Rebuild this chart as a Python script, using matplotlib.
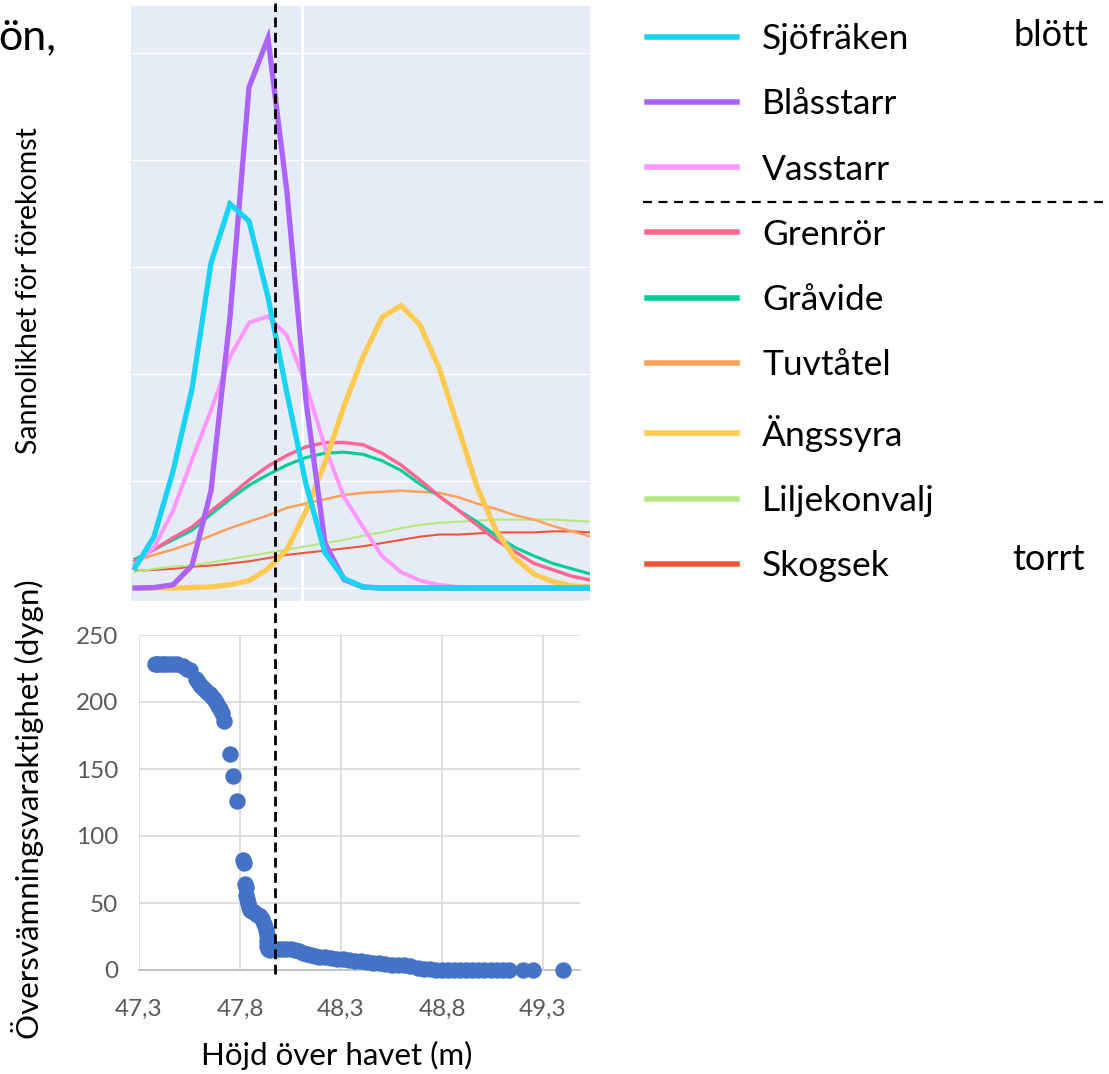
import numpy as np
import matplotlib.pyplot as plt
from matplotlib.lines import Line2D
from matplotlib.transforms import blended_transform_factory

plt.rcParams['font.family'] = ['Lato', 'DejaVu Sans']

# Övre panelen: modellerad sannolikhet för förekomst längs höjdgradienten
hojd_modell = [47.2, 47.3, 47.4, 47.5, 47.6, 47.7, 47.8, 47.9, 48.0, 48.1, 48.2, 48.3, 48.4,
               48.5, 48.6, 48.7, 48.8, 48.9, 49.0, 49.1, 49.2, 49.3, 49.4, 49.5, 49.6]

sjofraken = [0.019, 0.048, 0.109, 0.186, 0.304, 0.359, 0.343, 0.272, 0.182, 0.097, 0.033, 0.009, 0.001,
             0, 0, 0, 0, 0, 0, 0, 0, 0, 0, 0, 0]
blasstarr = [0, 0.0005, 0.003, 0.021, 0.091, 0.253, 0.468, 0.514, 0.370, 0.175, 0.042, 0.008, 0.001,
             0, 0, 0, 0, 0, 0, 0, 0, 0, 0, 0, 0]
vasstarr = [0.022, 0.038, 0.072, 0.120, 0.166, 0.216, 0.248, 0.254, 0.236, 0.190, 0.132, 0.085, 0.057,
            0.030, 0.015, 0.007, 0.003, 0.001, 0, 0, 0, 0, 0, 0, 0]
grenror = [0.025, 0.036, 0.047, 0.057, 0.072, 0.086, 0.101, 0.114, 0.124, 0.132, 0.136, 0.136, 0.134,
           0.126, 0.115, 0.101, 0.086, 0.073, 0.059, 0.045, 0.034, 0.023, 0.017, 0.011, 0.0075]
gravide = [0.027, 0.036, 0.045, 0.054, 0.069, 0.083, 0.096, 0.106, 0.115, 0.122, 0.126, 0.127, 0.125,
           0.119, 0.110, 0.097, 0.086, 0.073, 0.062, 0.049, 0.038, 0.030, 0.023, 0.018, 0.013]
tuvtatel = [0.025, 0.031, 0.036, 0.042, 0.049, 0.056, 0.062, 0.068, 0.075, 0.079, 0.083, 0.087, 0.089,
            0.090, 0.091, 0.090, 0.089, 0.085, 0.079, 0.074, 0.068, 0.064, 0.058, 0.053, 0.048]
angssyra = [0, 0, 0, 0.0005, 0.001, 0.003, 0.007, 0.018, 0.036, 0.072, 0.117, 0.170, 0.216,
            0.253, 0.264, 0.246, 0.206, 0.151, 0.095, 0.054, 0.028, 0.013, 0.006, 0.002, 0.001]
liljekonvalj = [0.015, 0.018, 0.020, 0.021, 0.024, 0.027, 0.030, 0.033, 0.036, 0.039, 0.042, 0.045, 0.049,
                0.052, 0.056, 0.059, 0.061, 0.062, 0.063, 0.064, 0.064, 0.064, 0.064, 0.063, 0.062]
skogsek = [0.016, 0.017, 0.018, 0.020, 0.021, 0.023, 0.025, 0.028, 0.031, 0.033, 0.035, 0.037, 0.039,
           0.042, 0.045, 0.048, 0.050, 0.050, 0.051, 0.052, 0.052, 0.052, 0.053, 0.053, 0.052]

arter = ["Sjöfräken", "Blåsstarr", "Vasstarr", "Grenrör", "Gråvide",
         "Tuvtåtel", "Ängssyra", "Liljekonvalj", "Skogsek"]
kurvor = [sjofraken, blasstarr, vasstarr, grenror, gravide,
          tuvtatel, angssyra, liljekonvalj, skogsek]

# Nedre panelen: översvämningsvaraktighet mot höjd
hojd = [47.38, 47.39, 47.40, 47.42, 47.43, 47.45, 47.47, 47.49, 47.52, 47.54, 47.55,
        47.58, 47.59, 47.60, 47.61, 47.62, 47.63, 47.64, 47.65, 47.66, 47.67, 47.68, 47.69, 47.70, 47.71, 47.72,
        47.75, 47.765, 47.785,
        47.815, 47.818, 47.825, 47.828, 47.83, 47.835, 47.84, 47.845, 47.85, 47.86, 47.87, 47.88, 47.89,
        47.90, 47.91, 47.92, 47.93, 47.932, 47.934, 47.936, 47.94, 47.95,
        47.97, 47.99, 48.01, 48.03, 48.05, 48.07, 48.09, 48.11, 48.13, 48.15, 48.17, 48.19, 48.22, 48.25,
        48.28, 48.31, 48.34, 48.37, 48.40, 48.43, 48.46, 48.49, 48.52, 48.55, 48.58, 48.61, 48.64, 48.68,
        48.71, 48.74, 48.77, 48.80, 48.83, 48.86, 48.89, 48.92, 48.95, 48.98, 49.01, 49.04, 49.07, 49.10,
        49.13, 49.20, 49.25, 49.40]
dygn = [228, 228, 228, 228, 228, 228, 228, 228, 227, 225, 224,
        217, 215, 213, 211, 210, 208, 207, 206, 204, 202, 200, 197, 195, 192, 186,
        161, 145, 126,
        82, 80, 64, 62, 56, 53, 50, 47, 45, 44, 43, 42, 41,
        40, 38, 34, 30, 26, 22, 18, 16, 15,
        16, 16, 16, 15.5, 15.5, 15, 14, 13, 12, 11, 10.5, 10, 9.5, 9,
        8.5, 8, 7.5, 7, 6.5, 6, 5.5, 5, 4.5, 4, 4, 3.5, 3, 1.5,
        1, 0.5, 0, 0, 0, 0, 0, 0, 0, 0, 0, 0, 0, 0,
        0, 0, 0, 0]

xtick_varden = [47.3, 47.8, 48.3, 48.8, 49.3]
xtick_text = ["47,3", "47,8", "48,3", "48,8", "49,3"]
gransniva = 47.973

farger = ['#19D3F3', '#AB63FA', '#FF97FF', '#FF6692', '#00CC96',
          '#FFA15A', '#FECB52', '#B6E880', '#EF553B']
bredder = [3.8, 3.8, 2.9, 2.5, 2.2, 1.8, 3.8, 1.5, 1.5]
ritordning = [8, 7, 5, 4, 3, 2, 6, 1, 0]

W, H = 1109, 1074
fig = plt.figure(figsize=(W / 100, H / 100), dpi=100)

def px_axes(left, top, right, bottom):
    return fig.add_axes([left / W, 1 - bottom / H, (right - left) / W, (bottom - top) / H])

# --- övre panel ---
ax1 = px_axes(131, 6, 590, 601)
ax1.set_facecolor('#E5ECF6')
linjer = {}
for i in ritordning:
    ln, = ax1.plot(hojd_modell, kurvor[i], color=farger[i], lw=bredder[i],
                   label=arter[i], solid_joinstyle='miter')
    linjer[i] = ln
ax1.set_xlim(47.179, 49.595)
ax1.set_ylim(-0.0121, 0.544)
ax1.set_yticks([0, 0.1, 0.2, 0.3, 0.4, 0.5])
ax1.set_xticks([48.08])
ax1.grid(True, color='white', lw=1.0)
ax1.xaxis.get_gridlines()[0].set_linewidth(2.0)
ax1.tick_params(length=0, labelleft=False, labelbottom=False)
for s in ax1.spines.values():
    s.set_visible(False)
ax1.set_axisbelow(True)
ax1.set_ylabel("Sannolikhet för förekomst", fontsize=20.5)
ax1.yaxis.set_label_coords(42 / W, 1 - 291 / H, transform=fig.transFigure)

# --- nedre panel ---
ax2 = px_axes(139, 635, 580, 970)
ax2.scatter(hojd, dygn, s=140, color='#4472C4', linewidths=0, zorder=3, clip_on=False)
ax2.set_xlim(47.3, 49.483)
ax2.set_ylim(0, 250)
ax2.set_xticks(xtick_varden)
ax2.set_xticklabels(xtick_text)
ax2.set_yticks([0, 50, 100, 150, 200, 250])
ax2.grid(True, color='#D9D9D9', lw=1.2)
ax2.set_axisbelow(True)
for s in ax2.spines.values():
    s.set_visible(False)
ax2.spines['bottom'].set_visible(True)
ax2.spines['bottom'].set_color('#BFBFBF')
ax2.spines['bottom'].set_linewidth(1.3)
ax2.tick_params(length=0, labelsize=17.5, labelcolor='#595959')
ax2.tick_params(axis='y', pad=15)
ax2.tick_params(axis='x', pad=21)
ax2.set_xlabel("Höjd över havet (m)", fontsize=22.5)
ax2.xaxis.set_label_coords(337 / W, 1 - 1041 / H, transform=fig.transFigure)
ax2.set_ylabel("Översvämningsvaraktighet (dygn)", fontsize=22.5)
ax2.yaxis.set_label_coords(44 / W, 1 - 809 / H, transform=fig.transFigure)

# streckad linje genom båda panelerna
trans = blended_transform_factory(ax2.transData, fig.transFigure)
fig.add_artist(Line2D([gransniva, gransniva], [1 - 974 / H, 1 - 3 / H], transform=trans,
                      color='black', lw=2.0, ls=(0, (3.5, 2))))

# --- legend ---
handles = [linjer[i] for i in range(len(arter))]
leg = fig.legend(handles, arter, loc='upper left', bbox_to_anchor=(647 / W, 1 - 23 / H),
                 frameon=False, fontsize=25.5, handlelength=2.54, handletextpad=0.71,
                 labelspacing=0.94, borderpad=0, borderaxespad=0)
for h in leg.legend_handles:
    h.set_linewidth(4.0)

fig.add_artist(Line2D([643 / W, 1105 / W], [1 - 202 / H, 1 - 202 / H], transform=fig.transFigure,
                      color='black', lw=1.6, ls=(0, (4, 3))))

fig.text(1013 / W, 1 - 35 / H, "blött", fontsize=26, va='center', ha='left')
fig.text(1012 / W, 1 - 560 / H, "torrt", fontsize=26, va='center', ha='left')
fig.text(-2 / W, 1 - 49 / H, "ön,", fontsize=31, va='baseline', ha='left')

fig.savefig("out.png", dpi=100)
